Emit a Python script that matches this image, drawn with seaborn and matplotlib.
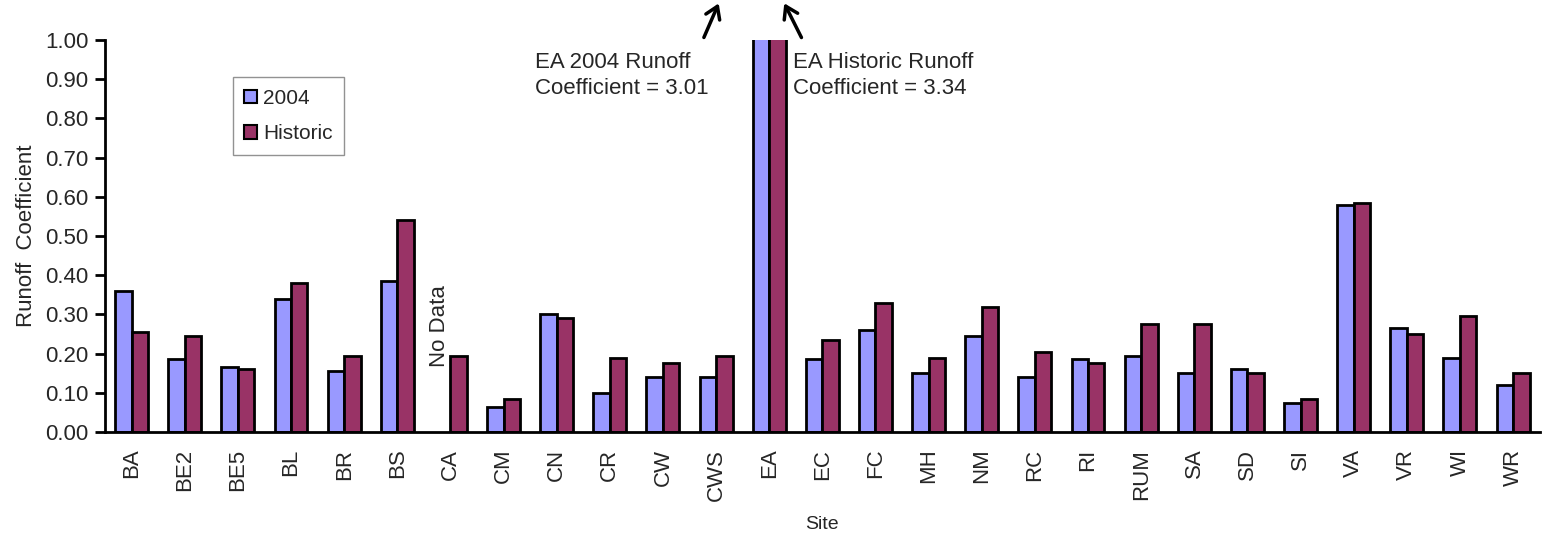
import numpy as np
import pandas as pd
import matplotlib
matplotlib.use("Agg")
import matplotlib.pyplot as plt
import seaborn as sns

# Runoff coefficients per site (EA values are off the chart)
sites = ["BA", "BE2", "BE5", "BL", "BR", "BS", "CA", "CM", "CN", "CR", "CW", "CWS", "EA",
         "EC", "FC", "MH", "NM", "RC", "RI", "RUM", "SA", "SD", "SI", "VA", "VR", "WI", "WR"]
runoff_2004 = [0.36, 0.185, 0.165, 0.34, 0.155, 0.385, np.nan, 0.065, 0.30, 0.10, 0.14, 0.14, 3.01,
               0.185, 0.26, 0.15, 0.245, 0.14, 0.185, 0.195, 0.15, 0.16, 0.075, 0.58, 0.265, 0.19, 0.12]
runoff_hist = [0.255, 0.245, 0.16, 0.38, 0.195, 0.54, 0.195, 0.085, 0.29, 0.19, 0.175, 0.195, 3.34,
               0.235, 0.33, 0.19, 0.32, 0.205, 0.175, 0.275, 0.275, 0.15, 0.085, 0.585, 0.25, 0.295, 0.15]
series = ["2004", "Historic"]
colors = ["#9999FF", "#993366"]

df = pd.DataFrame({
    "Site": sites * 2,
    "Series": [series[0]] * len(sites) + [series[1]] * len(sites),
    "Value": runoff_2004 + runoff_hist,
}).dropna()

sns.set_theme(style="white")
plt.rcParams["font.family"] = ["Liberation Sans", "DejaVu Sans"]

fig = plt.figure(figsize=(15.56, 5.35), dpi=100)
ax = fig.add_axes([0.0675, 0.1925, 0.922, 0.7327])

sns.barplot(data=df, x="Site", y="Value", hue="Series", order=sites, hue_order=series,
            palette=colors, saturation=1, width=0.62, edgecolor="black", linewidth=2,
            errorbar=None, ax=ax)

ax.set_ylim(0, 1.0)
ax.set_xlim(-0.5, len(sites) - 0.5)
ax.set_yticks(np.arange(0, 1.01, 0.1))
ax.set_yticklabels([f"{v:.2f}" for v in np.arange(0, 1.01, 0.1)], fontsize=16)
ax.set_xticks(range(len(sites)))
ax.set_xticklabels(sites, rotation=90, fontsize=16)
ax.set_xticks(np.arange(-0.5, len(sites)), minor=True)
ax.tick_params(axis="x", which="major", length=0, pad=12)
ax.tick_params(axis="x", which="minor", length=7, width=2, color="black", direction="out")
ax.tick_params(axis="y", length=7, width=2, color="black", direction="out", left=True, pad=5)

for s in ["top", "right"]:
    ax.spines[s].set_visible(False)
for s in ["left", "bottom"]:
    ax.spines[s].set_color("black")
    ax.spines[s].set_linewidth(2)

ax.set_ylabel("Runoff  Coefficient", fontsize=16, labelpad=6)
ax.set_xlabel("Site", fontsize=14, labelpad=11)

leg = ax.legend(loc="upper left", bbox_to_anchor=(0.089, 0.905), fontsize=15,
                frameon=True, fancybox=False, edgecolor="#777777",
                handlelength=0.6, handleheight=0.6, handletextpad=0.3,
                borderpad=0.55, labelspacing=0.8, borderaxespad=0)
leg.get_frame().set_linewidth(1)
for h in leg.legend_handles:
    h.set_edgecolor("black")
    h.set_linewidth(1.5)

ax.text(5.8, 0.27, "No Data", rotation=90, ha="center", va="center", fontsize=16)

ax.text(7.6, 0.97, "EA 2004 Runoff\nCoefficient = 3.01", ha="left", va="top",
        fontsize=16, linespacing=1.3)
ax.text(12.44, 0.97, "EA Historic Runoff\nCoefficient = 3.34", ha="left", va="top",
        fontsize=16, linespacing=1.3)

arrow = dict(arrowstyle="->,head_length=0.7,head_width=0.45", lw=2.5, color="black")
ax.annotate("", xy=(11.07, 1.10), xytext=(10.75, 1.0), arrowprops=arrow, annotation_clip=False)
ax.annotate("", xy=(12.26, 1.10), xytext=(12.63, 1.0), arrowprops=arrow, annotation_clip=False)

fig.savefig("out.png", dpi=100)
